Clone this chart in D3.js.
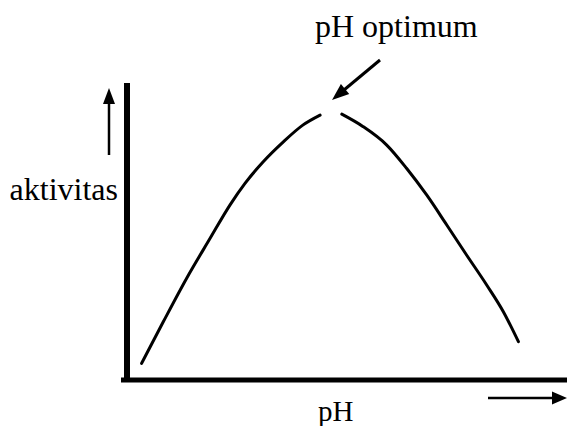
<!DOCTYPE html>
<html>
<head>
<meta charset="utf-8">
<script src="https://cdn.jsdelivr.net/npm/d3@7"></script>
<style>
  html, body { margin: 0; padding: 0; background: #fff; }
  svg { display: block; }
  text { font-family: "Liberation Serif", "Times New Roman", serif; fill: #000; }
</style>
</head>
<body>
<svg id="chart" width="567" height="426"></svg>
<script>
// Rising branch of the curve (pH, activity)
const risePH = [0.56, 1.25, 1.99, 2.74, 3.37, 3.85, 4.43, 5.07, 5.70, 6.24];
const riseAct = [5.6, 19.6, 34.2, 47.7, 58.9, 66.2, 73.5, 80.2, 85.9, 89.2];
// Falling branch of the curve (pH, activity)
const fallPH = [6.93, 7.61, 8.36, 8.99, 9.63, 10.27, 10.90, 11.54, 12.07, 12.55];
const fallAct = [89.5, 85.3, 79.1, 71.3, 62.3, 52.2, 42.1, 32.0, 23.0, 12.9];
// Labels
const yLabel = "aktivitas";
const xLabel = "pH";
const peakLabel = "pH optimum";

const svg = d3.select("#chart");
const x = d3.scaleLinear().domain([0, 14]).range([124, 564]);
const y = d3.scaleLinear().domain([0, 100]).range([380, 83]);

// Axes (thick, no ticks)
const xAxis = d3.axisBottom(x).tickValues([]).tickSizeOuter(0);
const yAxis = d3.axisLeft(y).tickValues([]).tickSizeOuter(0);
svg.append("g").attr("transform", `translate(0,${y(0)})`).call(xAxis)
  .call(g => g.select(".domain").attr("stroke", "#000").attr("stroke-width", 5)
    .attr("d", `M${x(0) - 3},0H567`));
svg.append("g").attr("transform", `translate(${x(0) + 3},0)`).call(yAxis)
  .call(g => g.select(".domain").attr("stroke", "#000").attr("stroke-width", 6)
    .attr("d", `M0,${y(0) + 2}V${y(100)}`));

// Curve
const line = d3.line().x(d => x(d[0])).y(d => y(d[1])).curve(d3.curveMonotoneX);
const rise = risePH.map((p, i) => [p, riseAct[i]]);
const fall = fallPH.map((p, i) => [p, fallAct[i]]);
[rise, fall].forEach(data => {
  svg.append("path").datum(data).attr("d", line)
    .attr("fill", "none").attr("stroke", "#000").attr("stroke-width", 3)
    .attr("stroke-linecap", "round");
});

// Arrow helper
function arrow(x1, y1, x2, y2, headLen, headHalf, sw) {
  const dx = x2 - x1, dy = y2 - y1, L = Math.hypot(dx, dy);
  const ux = dx / L, uy = dy / L, px = -uy, py = ux;
  const bx = x2 - ux * headLen, by = y2 - uy * headLen;
  svg.append("line").attr("x1", x1).attr("y1", y1).attr("x2", bx + ux).attr("y2", by + uy)
    .attr("stroke", "#000").attr("stroke-width", sw);
  svg.append("path")
    .attr("d", `M${x2},${y2}L${bx + px * headHalf},${by + py * headHalf}L${bx - px * headHalf},${by - py * headHalf}Z`)
    .attr("fill", "#000");
}
arrow(109, 155, 109, 88, 16, 6, 2.5);      // y-direction arrow
arrow(488, 398, 567, 398, 15, 6.5, 2.5);   // x-direction arrow
arrow(380, 60, 332, 100, 17, 6.5, 3);      // optimum pointer

// Labels
svg.append("text").attr("x", 118).attr("y", 200).attr("text-anchor", "end")
  .attr("font-size", 32).text(yLabel);
svg.append("text").attr("x", 315).attr("y", 37).attr("font-size", 32).text(peakLabel);
svg.append("text").attr("x", 318).attr("y", 421).attr("font-size", 29).text(xLabel);
</script>
</body>
</html>
